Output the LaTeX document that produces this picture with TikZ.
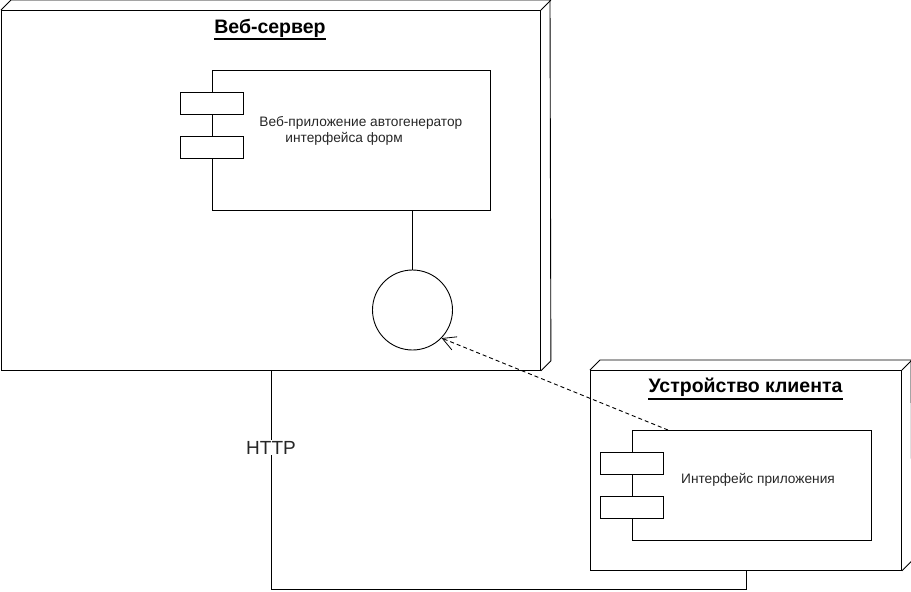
\documentclass[tikz,border=0pt]{standalone}
\usepackage{fontspec}
\setmainfont{Liberation Sans}
\usetikzlibrary{arrows.meta,calc}
\begin{document}
\begin{tikzpicture}[x=1pt,y=-1pt,
  line width=0.9pt,
  comp/.style={draw,rectangle,inner sep=0pt,anchor=north west},
  port/.style={draw,fill=white,rectangle,minimum width=63pt,minimum height=22pt,inner sep=0pt},
  titletxt/.style={font=\fontsize{19.5}{23}\selectfont\bfseries,inner sep=0pt,anchor=base},
  uline/.style={line width=1.3pt},
  comptxt/.style={font=\fontsize{13.7}{16}\selectfont,text=black!85,inner sep=0pt},
  dep/.style={dashed,dash pattern=on 4pt off 3pt,-{Straight Barb[length=13pt,width=14pt,line width=0.8pt]}}
]
\useasboundingbox (0,0) rectangle (911,592);
% Web server node
\node[comp,minimum width=539pt,minimum height=360pt] (ws) at (1,10) {};
\draw (ws.north west) -- ++(10,-10) -- ++(539,0) -- ($(ws.south east)+(10,-10)$) -- (ws.south east);
\draw (ws.north east) -- ++(10,-10);
\node[titletxt] (wstitle) at (270,33) {Веб-сервер};
\draw[uline] ([yshift=-6pt]wstitle.base west) -- ([yshift=-6pt]wstitle.base east);
% component 1
\node[comp,minimum width=278pt,minimum height=140pt] (c1) at (212,70) {};
\node[port] (p1a) at (211.5,103) {};
\node[port] (p1b) at (211.5,147) {};
\node[comptxt,anchor=base west] (c1t1) at (259,126) {Веб-приложение автогенератор};
\node[comptxt,anchor=base west] (c1t2) at (285,142) {интерфейса форм};
% interface circle
\node[draw,circle,minimum size=80pt,inner sep=0pt] (iface) at (412.5,310) {};
\draw (c1.south -| iface.north) -- (iface.north);
% client node
\node[comp,minimum width=311pt,minimum height=200pt] (cl) at (590,370) {};
\draw (cl.north west) -- ++(10,-10) -- ++(311,0) -- ($(cl.south east)+(10,-10)$) -- (cl.south east);
\draw (cl.north east) -- ++(10,-10);
\node[titletxt] (cltitle) at (745.5,392.5) {Устройство клиента};
\draw[uline] ([yshift=-6.5pt]cltitle.base west) -- ([yshift=-6.5pt]cltitle.base east);
% component 2
\node[comp,minimum width=239pt,minimum height=110pt] (c2) at (632,430) {};
\node[port] (p2a) at (631.5,463.5) {};
\node[port] (p2b) at (631.5,507.5) {};
\node[comptxt,anchor=base] (c2t) at (758,483.5) {Интерфейс приложения};
% dependency
\coordinate (depstart) at (668,430);
\draw[dep] (depstart) -- (iface.-44);
% HTTP link
\coordinate (low) at (0,589);
\draw (ws.south) -- (ws.south |- low) -| (cl.south);
\node[fill=white,inner sep=1pt,font=\fontsize{19}{22}\selectfont,text=black!85] (http) at (271,447.5) {HTTP};
\end{tikzpicture}
\end{document}
